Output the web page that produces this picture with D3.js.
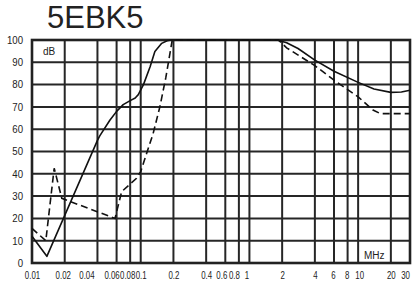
<!DOCTYPE html>
<html>
<head>
<meta charset="utf-8">
<script src="https://cdn.jsdelivr.net/npm/d3@7"></script>
<style>
  body { margin: 0; background: #fff; }
  text { font-family: "Liberation Sans", Arial, sans-serif; fill: #222; }
</style>
</head>
<body>
<div id="chart"></div>
<script>
// chart data
var freqTicks = [0.01, 0.02, 0.04, 0.06, 0.08, 0.1, 0.2, 0.4, 0.6, 0.8, 1, 2, 4, 6, 8, 10, 20, 30];
var freqLabels = ["0.01", "0.02", "0.04", "0.06", "0.08", "0.1", "0.2", "0.4", "0.6", "0.8", "1", "2", "4", "6", "8", "10", "20", "30"];
var dbTicks = [0, 10, 20, 30, 40, 50, 60, 70, 80, 90, 100];

var solidFreq = [0.01, 0.0137, 0.04, 0.042, 0.052, 0.06, 0.069, 0.08, 0.089, 0.095, 0.106, 0.122, 0.135, 0.156, 0.175, 0.19, 1.8, 2.2, 2.8, 4, 6, 10, 14, 20, 25, 30];
var solidDb   = [12, 3, 55, 57, 64, 68, 71, 72.8, 74, 75.5, 80, 88, 94.8, 98.5, 99.7, 100, 100, 98.8, 96.2, 91, 86, 81, 78, 76.5, 76.7, 77.5];

var dashFreq = [0.01, 0.0134, 0.016, 0.0188, 0.058, 0.0668, 0.0915, 0.1, 0.13, 0.15, 0.17, 0.195, 1.85, 2.2, 4, 6, 10, 13.7, 16, 30];
var dashDb   = [15.5, 10, 42.5, 29, 20, 32, 38, 41, 58, 70, 83, 100, 100, 96.5, 88.5, 82, 74.5, 68.6, 67, 67];

// label nudges (px) so the crowded tick labels don't collide
var labelNudge = { "0.02": -2, "0.04": -11, "0.06": -5, "0.08": -3, "0.6": -4, "0.8": -5, "1": -3, "6": -1, "8": -1, "10": 1, "30": -5 };

var svgWidth = 414;
var svgHeight = 287;
var margin = { top: 40, right: 4, bottom: 24, left: 32 };
var width = 410 - margin.left;
var height = 263 - margin.top;

var svg = d3.select("#chart")
  .append("svg")
  .attr("width", svgWidth)
  .attr("height", svgHeight);

svg.append("text")
  .attr("x", 47)
  .attr("y", 28)
  .style("font-size", "31px")
  .text("5EBK5");

var chartGroup = svg.append("g")
  .attr("transform", `translate(${margin.left}, ${margin.top})`);

var xScale = d3.scaleLog()
  .domain([0.01, 30])
  .range([0, width]);

var yScale = d3.scaleLinear()
  .domain([0, 100])
  .range([height, 0]);

// grid
chartGroup.selectAll(".vgrid")
  .data(freqTicks)
  .enter()
  .append("line")
  .attr("x1", d => xScale(d))
  .attr("x2", d => xScale(d))
  .attr("y1", 0)
  .attr("y2", height)
  .attr("stroke", "#262626")
  .attr("stroke-width", 2);

chartGroup.selectAll(".hgrid")
  .data(dbTicks)
  .enter()
  .append("line")
  .attr("x1", 0)
  .attr("x2", width)
  .attr("y1", d => yScale(d))
  .attr("y2", d => yScale(d))
  .attr("stroke", "#262626")
  .attr("stroke-width", 2);

chartGroup.append("rect")
  .attr("width", width)
  .attr("height", height)
  .attr("fill", "none")
  .attr("stroke", "#222")
  .attr("stroke-width", 2.6);

// axes
var bottomAxis = d3.axisBottom(xScale)
  .tickValues(freqTicks)
  .tickFormat((d, i) => freqLabels[i])
  .tickSize(0)
  .tickPadding(9);

var leftAxis = d3.axisLeft(yScale)
  .tickValues(dbTicks)
  .tickSize(0)
  .tickPadding(9);

var xAxisG = chartGroup.append("g")
  .attr("transform", `translate(0, ${height})`)
  .call(bottomAxis);

var yAxisG = chartGroup.append("g")
  .call(leftAxis);

[xAxisG, yAxisG].forEach(function(g) {
  g.select(".domain").remove();
  g.selectAll("text")
    .style("font-size", "10.5px")
    .style("font-family", "Liberation Sans, Arial, sans-serif")
    .attr("fill", "#222");
});

// narrow the bottom labels like the printed chart
var squeeze = 0.75;
xAxisG.selectAll(".tick text")
  .attr("transform", `scale(${squeeze},1)`)
  .attr("x", (d, i) => (labelNudge[freqLabels[i]] || 0) / squeeze);

yAxisG.selectAll(".tick text")
  .attr("transform", "translate(-9,0) scale(0.92,1) translate(9,0)");

// unit labels
chartGroup.append("text")
  .attr("x", 11)
  .attr("y", 15)
  .style("font-size", "10px")
  .text("dB");

chartGroup.append("text")
  .attr("x", 332)
  .attr("y", 219)
  .style("font-size", "10px")
  .text("MHz");

// curves
var line = d3.line()
  .x(d => xScale(d[0]))
  .y(d => yScale(d[1]));

chartGroup.append("path")
  .datum(solidFreq.map((f, i) => [f, solidDb[i]]))
  .attr("d", line)
  .attr("fill", "none")
  .attr("stroke", "#111")
  .attr("stroke-width", 1.6)
  .attr("stroke-linejoin", "round");

chartGroup.append("path")
  .datum(dashFreq.map((f, i) => [f, dashDb[i]]))
  .attr("d", line)
  .attr("fill", "none")
  .attr("stroke", "#111")
  .attr("stroke-width", 1.6)
  .attr("stroke-dasharray", "7,4");
</script>
</body>
</html>
